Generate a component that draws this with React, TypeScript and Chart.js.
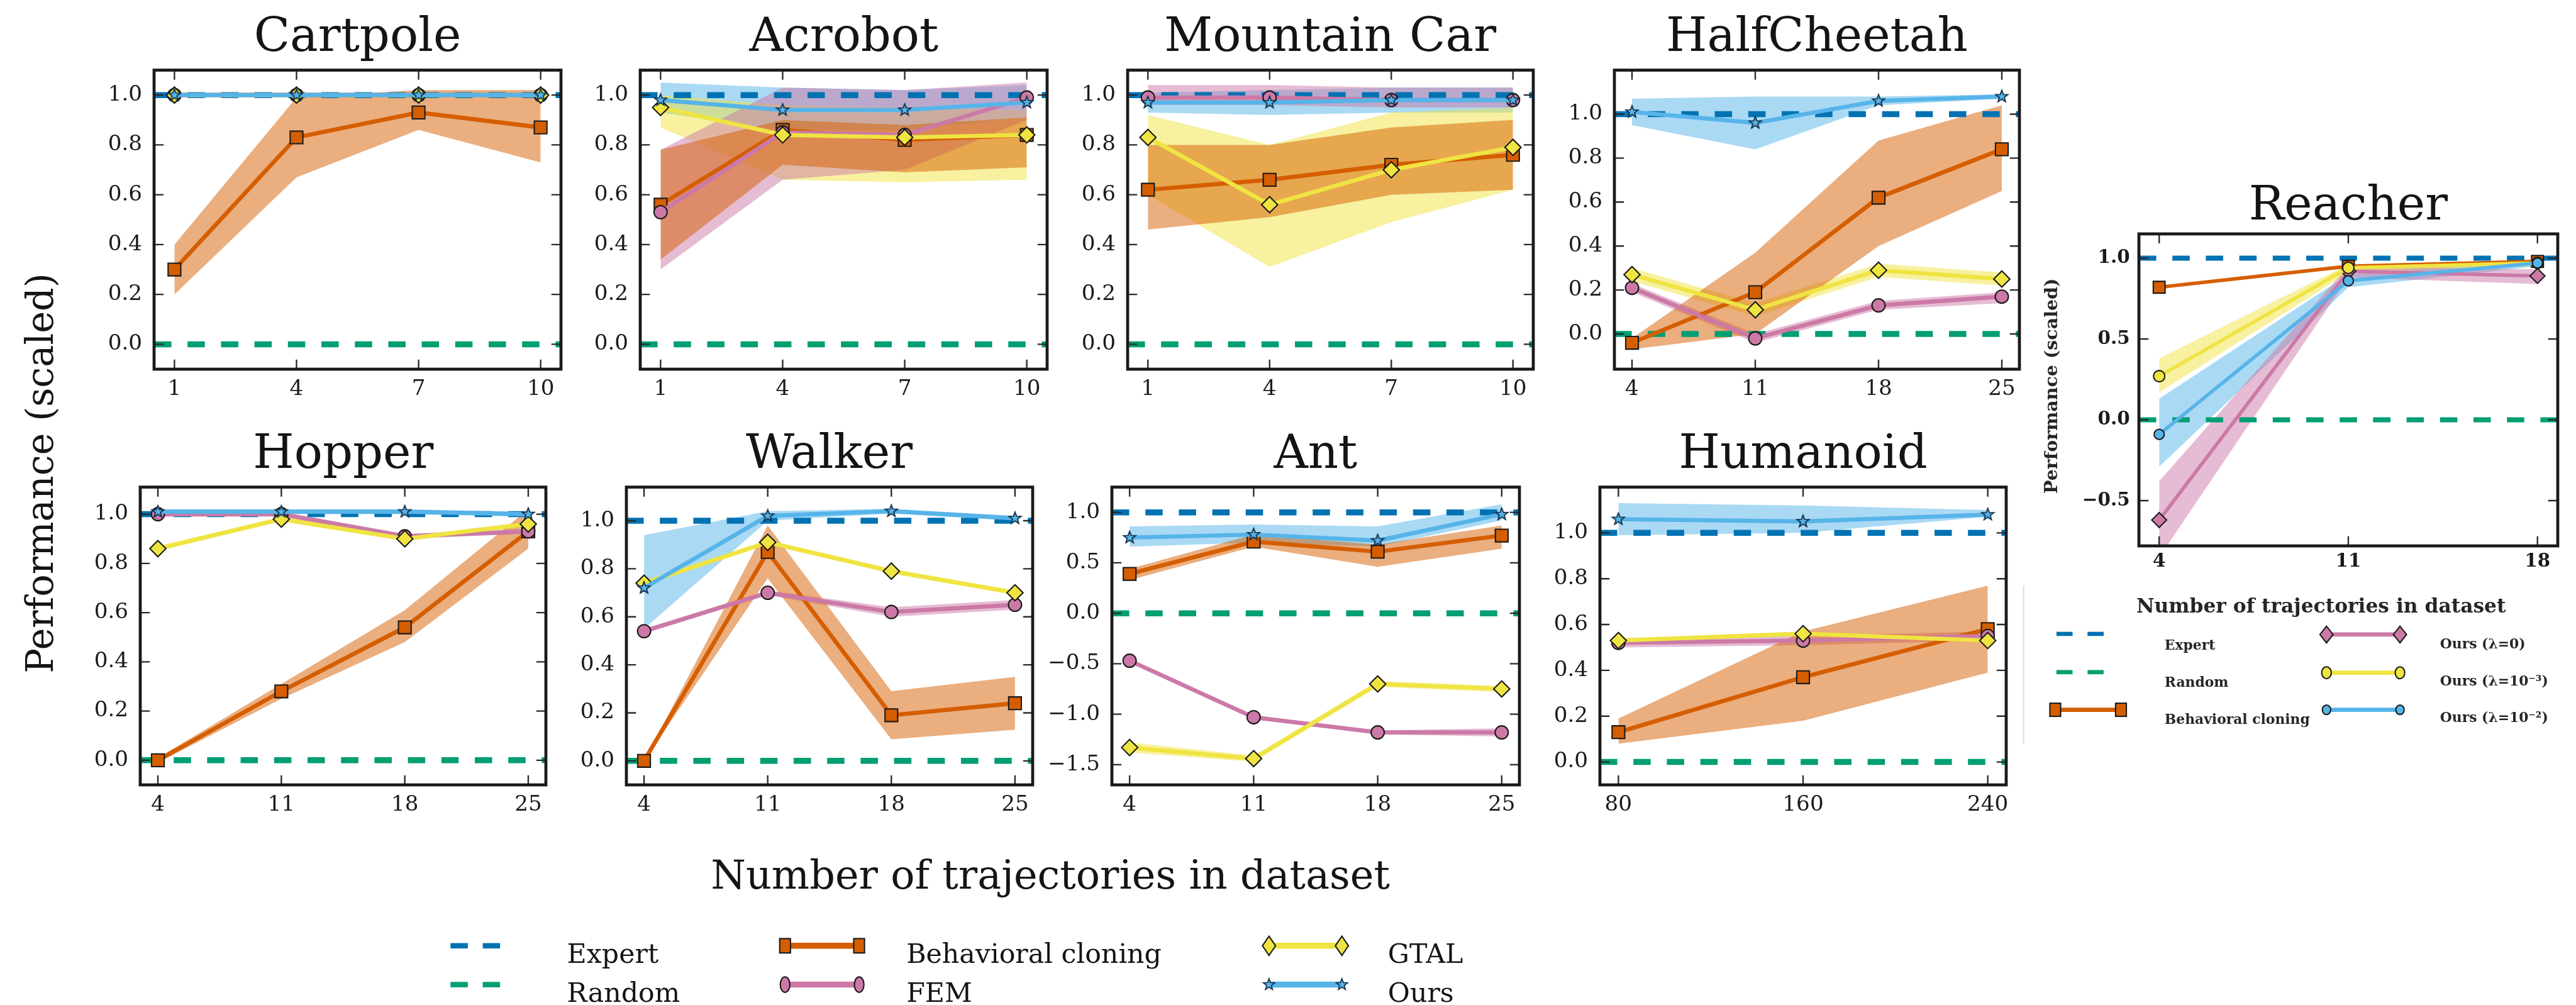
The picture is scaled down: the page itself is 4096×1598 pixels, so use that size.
import React, { useEffect, useRef } from 'react';
import { Chart, registerables } from 'chart.js';

Chart.register(...registerables);

const S = 0.95;
const FONT = 'DejaVu Serif';
const REF_W = 4309;
const REF_H = 1681;

// ---------- colours ----------
const C_EXPERT = '#0072B2';
const C_RANDOM = '#009E73';
const C_BC = '#D55E00';
const C_FEM = '#CC79A7';
const C_GTAL = '#F0E442';
const C_OURS = '#56B4E9';
const EDGE = '#1a1a1a';

// ---------- reference levels ----------
const EXPERT_LEVEL = 1.0;
const RANDOM_LEVEL = 0.0;

// ---------- tick values ----------
const yTicksUnit = [0, 0.2, 0.4, 0.6, 0.8, 1.0];
const yTicksAnt = [-1.5, -1.0, -0.5, 0, 0.5, 1.0];
const yTicksReacher = [-0.5, 0, 0.5, 1.0];

// ---------- Cartpole ----------
const cartpoleX = [1, 4, 7, 10];
const cartpoleBC = [0.30, 0.83, 0.93, 0.87];
const cartpoleBCLo = [0.20, 0.67, 0.86, 0.73];
const cartpoleBCHi = [0.40, 0.99, 1.02, 1.02];
const cartpoleFEM = [1.0, 1.0, 1.0, 1.0];
const cartpoleFEMLo = [0.99, 0.99, 0.99, 0.99];
const cartpoleFEMHi = [1.01, 1.01, 1.01, 1.01];
const cartpoleGTAL = [1.0, 1.0, 1.0, 1.0];
const cartpoleGTALLo = [0.99, 0.99, 0.99, 0.99];
const cartpoleGTALHi = [1.01, 1.01, 1.01, 1.01];
const cartpoleOurs = [1.0, 1.0, 1.0, 1.0];
const cartpoleOursLo = [0.99, 0.99, 0.99, 0.99];
const cartpoleOursHi = [1.01, 1.01, 1.01, 1.01];

// ---------- Acrobot ----------
const acrobotX = [1, 4, 7, 10];
const acrobotBC = [0.56, 0.86, 0.82, 0.84];
const acrobotBCLo = [0.34, 0.72, 0.69, 0.71];
const acrobotBCHi = [0.78, 0.90, 0.88, 0.91];
const acrobotFEM = [0.53, 0.85, 0.84, 0.99];
const acrobotFEMLo = [0.30, 0.66, 0.70, 0.90];
const acrobotFEMHi = [0.78, 1.03, 1.02, 1.05];
const acrobotGTAL = [0.95, 0.84, 0.83, 0.84];
const acrobotGTALLo = [0.87, 0.66, 0.65, 0.66];
const acrobotGTALHi = [1.00, 0.96, 0.95, 0.94];
const acrobotOurs = [0.98, 0.94, 0.94, 0.97];
const acrobotOursLo = [0.93, 0.86, 0.86, 0.91];
const acrobotOursHi = [1.05, 1.03, 1.02, 1.04];

// ---------- Mountain Car ----------
const mcarX = [1, 4, 7, 10];
const mcarBC = [0.62, 0.66, 0.72, 0.76];
const mcarBCLo = [0.46, 0.51, 0.60, 0.62];
const mcarBCHi = [0.80, 0.80, 0.87, 0.90];
const mcarFEM = [0.99, 0.99, 0.98, 0.98];
const mcarFEMLo = [0.96, 0.96, 0.95, 0.95];
const mcarFEMHi = [1.04, 1.04, 1.03, 1.03];
const mcarGTAL = [0.83, 0.56, 0.70, 0.79];
const mcarGTALLo = [0.60, 0.31, 0.49, 0.62];
const mcarGTALHi = [0.92, 0.80, 0.93, 0.95];
const mcarOurs = [0.97, 0.97, 0.98, 0.98];
const mcarOursLo = [0.93, 0.92, 0.93, 0.93];
const mcarOursHi = [1.01, 1.02, 1.03, 1.03];

// ---------- HalfCheetah ----------
const cheetahX = [4, 11, 18, 25];
const cheetahBC = [-0.04, 0.19, 0.62, 0.84];
const cheetahBCLo = [-0.07, 0.0, 0.40, 0.65];
const cheetahBCHi = [-0.02, 0.37, 0.88, 1.04];
const cheetahFEM = [0.21, -0.02, 0.13, 0.17];
const cheetahFEMLo = [0.19, -0.04, 0.11, 0.14];
const cheetahFEMHi = [0.23, 0.0, 0.15, 0.19];
const cheetahGTAL = [0.27, 0.11, 0.29, 0.25];
const cheetahGTALLo = [0.24, 0.08, 0.26, 0.22];
const cheetahGTALHi = [0.30, 0.14, 0.32, 0.28];
const cheetahOurs = [1.01, 0.96, 1.06, 1.08];
const cheetahOursLo = [0.95, 0.84, 1.04, 1.07];
const cheetahOursHi = [1.07, 1.08, 1.08, 1.09];

// ---------- Hopper ----------
const hopperX = [4, 11, 18, 25];
const hopperBC = [0.0, 0.28, 0.54, 0.93];
const hopperBCLo = [-0.01, 0.25, 0.48, 0.86];
const hopperBCHi = [0.01, 0.31, 0.61, 1.02];
const hopperFEM = [1.0, 1.0, 0.91, 0.93];
const hopperFEMLo = [0.99, 0.99, 0.90, 0.92];
const hopperFEMHi = [1.01, 1.01, 0.92, 0.94];
const hopperGTAL = [0.86, 0.98, 0.90, 0.96];
const hopperGTALLo = [0.85, 0.97, 0.89, 0.95];
const hopperGTALHi = [0.87, 0.99, 0.91, 0.97];
const hopperOurs = [1.01, 1.01, 1.01, 1.0];
const hopperOursLo = [1.0, 1.0, 1.0, 0.99];
const hopperOursHi = [1.02, 1.02, 1.02, 1.01];

// ---------- Walker ----------
const walkerX = [4, 11, 18, 25];
const walkerBC = [0.0, 0.87, 0.19, 0.24];
const walkerBCLo = [0.0, 0.76, 0.09, 0.13];
const walkerBCHi = [0.0, 0.98, 0.29, 0.35];
const walkerFEM = [0.54, 0.70, 0.62, 0.65];
const walkerFEMLo = [0.53, 0.69, 0.60, 0.63];
const walkerFEMHi = [0.55, 0.71, 0.64, 0.67];
const walkerGTAL = [0.74, 0.91, 0.79, 0.70];
const walkerGTALLo = [0.73, 0.90, 0.78, 0.69];
const walkerGTALHi = [0.75, 0.92, 0.80, 0.71];
const walkerOurs = [0.72, 1.02, 1.04, 1.01];
const walkerOursLo = [0.55, 1.0, 1.03, 1.0];
const walkerOursHi = [0.94, 1.04, 1.05, 1.02];

// ---------- Ant ----------
const antX = [4, 11, 18, 25];
const antBC = [0.39, 0.71, 0.61, 0.77];
const antBCLo = [0.33, 0.66, 0.46, 0.64];
const antBCHi = [0.44, 0.78, 0.68, 0.87];
const antFEM = [-0.47, -1.03, -1.18, -1.18];
const antFEMLo = [-0.49, -1.05, -1.20, -1.22];
const antFEMHi = [-0.45, -1.01, -1.16, -1.14];
const antGTAL = [-1.33, -1.44, -0.70, -0.75];
const antGTALLo = [-1.38, -1.47, -0.73, -0.78];
const antGTALHi = [-1.28, -1.41, -0.67, -0.72];
const antOurs = [0.75, 0.78, 0.72, 0.98];
const antOursLo = [0.66, 0.70, 0.66, 0.92];
const antOursHi = [0.86, 0.88, 0.86, 1.08];

// ---------- Humanoid ----------
const humanoidX = [80, 160, 240];
const humanoidBC = [0.13, 0.37, 0.58];
const humanoidBCLo = [0.08, 0.18, 0.39];
const humanoidBCHi = [0.19, 0.57, 0.77];
const humanoidFEM = [0.52, 0.53, 0.55];
const humanoidFEMLo = [0.50, 0.51, 0.53];
const humanoidFEMHi = [0.54, 0.55, 0.57];
const humanoidGTAL = [0.53, 0.56, 0.53];
const humanoidGTALLo = [0.52, 0.55, 0.52];
const humanoidGTALHi = [0.54, 0.57, 0.54];
const humanoidOurs = [1.06, 1.05, 1.08];
const humanoidOursLo = [0.99, 1.00, 1.07];
const humanoidOursHi = [1.13, 1.12, 1.10];

// ---------- Reacher ----------
const reacherX = [4, 11, 18];
const reacherBC = [0.82, 0.95, 0.98];
const reacherLam0 = [-0.62, 0.92, 0.89];
const reacherLam0Lo = [-0.85, 0.88, 0.84];
const reacherLam0Hi = [-0.38, 0.95, 0.93];
const reacherLam3 = [0.27, 0.94, 0.97];
const reacherLam3Lo = [0.17, 0.91, 0.95];
const reacherLam3Hi = [0.38, 0.96, 0.99];
const reacherLam2 = [-0.09, 0.86, 0.97];
const reacherLam2Lo = [-0.29, 0.82, 0.95];
const reacherLam2Hi = [0.13, 0.90, 0.99];

// ---------- helpers ----------
type Series = { y: number[]; lo?: number[]; hi?: number[]; color: string; marker: string; r: number; order: number; lw?: number };
type Panel = { title: string; box: number[]; x: number[]; xRange: number[]; yRange: number[]; yTicks: number[]; series: Series[]; reacher?: boolean };

const std = (
  bc: number[], bcLo: number[], bcHi: number[],
  fem: number[], femLo: number[], femHi: number[],
  gtal: number[], gtalLo: number[], gtalHi: number[],
  ours: number[], oursLo: number[], oursHi: number[],
): Series[] => [
  { y: bc, lo: bcLo, hi: bcHi, color: C_BC, marker: 'rect', r: 15, order: 40 },
  { y: fem, lo: femLo, hi: femHi, color: C_FEM, marker: 'circle', r: 11, order: 30 },
  { y: gtal, lo: gtalLo, hi: gtalHi, color: C_GTAL, marker: 'rectRot', r: 13.5, order: 20 },
  { y: ours, lo: oursLo, hi: oursHi, color: C_OURS, marker: 'star', r: 10, order: 10 },
];

const PANELS: Panel[] = [
  { title: 'Cartpole', box: [258, 106, 939, 618], x: cartpoleX, xRange: [0.5, 10.5], yRange: [-0.1, 1.1], yTicks: yTicksUnit,
    series: std(cartpoleBC, cartpoleBCLo, cartpoleBCHi, cartpoleFEM, cartpoleFEMLo, cartpoleFEMHi, cartpoleGTAL, cartpoleGTALLo, cartpoleGTALHi, cartpoleOurs, cartpoleOursLo, cartpoleOursHi) },
  { title: 'Acrobot', box: [1072, 106, 1753, 618], x: acrobotX, xRange: [0.5, 10.5], yRange: [-0.1, 1.1], yTicks: yTicksUnit,
    series: std(acrobotBC, acrobotBCLo, acrobotBCHi, acrobotFEM, acrobotFEMLo, acrobotFEMHi, acrobotGTAL, acrobotGTALLo, acrobotGTALHi, acrobotOurs, acrobotOursLo, acrobotOursHi) },
  { title: 'Mountain Car', box: [1887, 106, 2566, 618], x: mcarX, xRange: [0.5, 10.5], yRange: [-0.1, 1.1], yTicks: yTicksUnit,
    series: std(mcarBC, mcarBCLo, mcarBCHi, mcarFEM, mcarFEMLo, mcarFEMHi, mcarGTAL, mcarGTALLo, mcarGTALHi, mcarOurs, mcarOursLo, mcarOursHi) },
  { title: 'HalfCheetah', box: [2702, 106, 3380, 618], x: cheetahX, xRange: [3, 26], yRange: [-0.16, 1.2], yTicks: yTicksUnit,
    series: std(cheetahBC, cheetahBCLo, cheetahBCHi, cheetahFEM, cheetahFEMLo, cheetahFEMHi, cheetahGTAL, cheetahGTALLo, cheetahGTALHi, cheetahOurs, cheetahOursLo, cheetahOursHi) },
  { title: 'Hopper', box: [235, 804, 914, 1314], x: hopperX, xRange: [3, 26], yRange: [-0.1, 1.11], yTicks: yTicksUnit,
    series: std(hopperBC, hopperBCLo, hopperBCHi, hopperFEM, hopperFEMLo, hopperFEMHi, hopperGTAL, hopperGTALLo, hopperGTALHi, hopperOurs, hopperOursLo, hopperOursHi) },
  { title: 'Walker', box: [1048, 804, 1728, 1314], x: walkerX, xRange: [3, 26], yRange: [-0.1, 1.14], yTicks: yTicksUnit,
    series: std(walkerBC, walkerBCLo, walkerBCHi, walkerFEM, walkerFEMLo, walkerFEMHi, walkerGTAL, walkerGTALLo, walkerGTALHi, walkerOurs, walkerOursLo, walkerOursHi) },
  { title: 'Ant', box: [1861, 804, 2543, 1314], x: antX, xRange: [3, 26], yRange: [-1.7, 1.25], yTicks: yTicksAnt,
    series: std(antBC, antBCLo, antBCHi, antFEM, antFEMLo, antFEMHi, antGTAL, antGTALLo, antGTALHi, antOurs, antOursLo, antOursHi) },
  { title: 'Humanoid', box: [2678, 804, 3358, 1314], x: humanoidX, xRange: [72, 248], yRange: [-0.1, 1.2], yTicks: yTicksUnit,
    series: std(humanoidBC, humanoidBCLo, humanoidBCHi, humanoidFEM, humanoidFEMLo, humanoidFEMHi, humanoidGTAL, humanoidGTALLo, humanoidGTALHi, humanoidOurs, humanoidOursLo, humanoidOursHi) },
  { title: 'Reacher', box: [3580, 388, 4281, 914], x: reacherX, xRange: [3.25, 18.75], yRange: [-0.78, 1.15], yTicks: yTicksReacher, reacher: true,
    series: [
      { y: reacherBC, color: C_BC, marker: 'rect', r: 14, order: 40, lw: 6 },
      { y: reacherLam0, lo: reacherLam0Lo, hi: reacherLam0Hi, color: C_FEM, marker: 'rectRot', r: 12.5, order: 30, lw: 6 },
      { y: reacherLam3, lo: reacherLam3Lo, hi: reacherLam3Hi, color: C_GTAL, marker: 'circle', r: 9.5, order: 20, lw: 6 },
      { y: reacherLam2, lo: reacherLam2Lo, hi: reacherLam2Hi, color: C_OURS, marker: 'circle', r: 8.5, order: 10, lw: 6 },
    ] },
];

function rgba(hex: string, a: number) {
  const n = parseInt(hex.slice(1), 16);
  return `rgba(${(n >> 16) & 255},${(n >> 8) & 255},${n & 255},${a})`;
}

let starCache: HTMLCanvasElement | null = null;
function starMarker() {
  if (starCache) return starCache;
  const R = 10.5 * S;
  const size = Math.ceil(2 * R + 4);
  const c = document.createElement('canvas');
  c.width = size; c.height = size;
  const g = c.getContext('2d')!;
  g.beginPath();
  for (let i = 0; i < 10; i++) {
    const a = -Math.PI / 2 + (i * Math.PI) / 5;
    const rr = i % 2 === 0 ? R : R * 0.42;
    const px = size / 2 + rr * Math.cos(a);
    const py = size / 2 + rr * Math.sin(a);
    if (i === 0) g.moveTo(px, py); else g.lineTo(px, py);
  }
  g.closePath();
  g.fillStyle = C_OURS; g.fill();
  g.lineWidth = 2 * S; g.strokeStyle = '#123049'; g.stroke();
  starCache = c;
  return c;
}

function buildDatasets(p: Panel) {
  const ds: any[] = [];
  p.series.forEach((s) => {
    if (s.lo && s.hi) {
      ds.push({ data: p.x.map((x, i) => ({ x, y: s.lo![i] })), borderColor: 'rgba(0,0,0,0)', borderWidth: 0, pointRadius: 0, fill: false, order: 100 });
      ds.push({ data: p.x.map((x, i) => ({ x, y: s.hi![i] })), borderColor: 'rgba(0,0,0,0)', borderWidth: 0, pointRadius: 0, fill: '-1', backgroundColor: rgba(s.color, 0.5), order: 100 });
    }
  });
  const dashW = (p.reacher ? 8.5 : 10) * S;
  ds.push({ data: [{ x: p.xRange[0], y: EXPERT_LEVEL }, { x: p.xRange[1], y: EXPERT_LEVEL }], borderColor: C_EXPERT, borderWidth: dashW, borderDash: [29 * S, 27 * S], borderCapStyle: 'butt', pointRadius: 0, fill: false, order: 50 });
  ds.push({ data: [{ x: p.xRange[0], y: RANDOM_LEVEL }, { x: p.xRange[1], y: RANDOM_LEVEL }], borderColor: C_RANDOM, borderWidth: dashW, borderDash: [29 * S, 27 * S], borderCapStyle: 'butt', pointRadius: 0, fill: false, order: 50 });
  p.series.forEach((s) => {
    ds.push({
      data: p.x.map((x, i) => ({ x, y: s.y[i] })),
      borderColor: s.color, borderWidth: (s.lw || 7) * S, fill: false, tension: 0,
      pointStyle: s.marker === 'star' ? starMarker() : s.marker,
      pointRadius: s.r * S, pointBackgroundColor: s.color, pointBorderColor: EDGE, pointBorderWidth: 2.2 * S,
      order: s.order,
    });
  });
  return ds;
}

const framePlugin = {
  id: 'frame',
  afterDraw(chart: any) {
    const { ctx, chartArea: a, scales } = chart;
    const xs = scales.x, ys = scales.y;
    ctx.save();
    ctx.strokeStyle = '#2a2a2a';
    ctx.lineWidth = 2.5 * S;
    const L = 16 * S;
    ctx.beginPath();
    xs.ticks.forEach((tk: any) => {
      const px = xs.getPixelForValue(tk.value);
      ctx.moveTo(px, a.bottom); ctx.lineTo(px, a.bottom - L);
      ctx.moveTo(px, a.top); ctx.lineTo(px, a.top + L);
    });
    ys.ticks.forEach((tk: any) => {
      const py = ys.getPixelForValue(tk.value);
      ctx.moveTo(a.left, py); ctx.lineTo(a.left + L, py);
      ctx.moveTo(a.right, py); ctx.lineTo(a.right - L, py);
    });
    ctx.stroke();
    ctx.strokeStyle = '#1a1a1a';
    ctx.lineWidth = 5 * S;
    ctx.strokeRect(a.left, a.top, a.right - a.left, a.bottom - a.top);
    ctx.restore();
  },
};

const fmtY = (v: number) => (Math.abs(v) < 1e-9 ? '0.0' : v.toFixed(1)).replace('-', '\u2212');

const PAD_L = 150, PAD_R = 30, PAD_T = 30, PAD_B = 80;

function PanelChart({ p }: { p: Panel }) {
  const ref = useRef<HTMLCanvasElement>(null);
  const [l, t, r, b] = p.box;
  const left = Math.round((l - PAD_L) * S);
  const top = Math.round((t - PAD_T) * S);
  const width = Math.round((r + PAD_R) * S) - left;
  const height = Math.round((b + PAD_B) * S) - top;
  const padL = Math.round(l * S) - left;
  const padT = Math.round(t * S) - top;
  const padR = width - (Math.round(r * S) - left);
  const padB = height - (Math.round(b * S) - top);

  useEffect(() => {
    const tickFont = { family: FONT, size: (p.reacher ? 31 : 36) * S, weight: p.reacher ? 'bold' : 'normal' };
    const chart = new Chart(ref.current!, {
      type: 'line',
      data: { datasets: buildDatasets(p) },
      options: {
        animation: false,
        responsive: false,
        maintainAspectRatio: false,
        devicePixelRatio: 1,
        events: [],
        layout: { padding: { top: padT, right: padR, left: 0, bottom: 0 } },
        plugins: { legend: { display: false }, tooltip: { enabled: false }, title: { display: false } },
        scales: {
          x: {
            type: 'linear', min: p.xRange[0], max: p.xRange[1],
            grid: { display: false, drawTicks: false }, border: { display: false },
            afterBuildTicks: (sc: any) => { sc.ticks = p.x.map((v) => ({ value: v })); },
            afterFit: (sc: any) => { sc.height = padB; },
            ticks: { font: tickFont, color: '#1a1a1a', padding: (p.reacher ? 8 : 12) * S, autoSkip: false, maxRotation: 0, minRotation: 0, callback: (v: any) => String(v) },
          },
          y: {
            type: 'linear', min: p.yRange[0], max: p.yRange[1],
            grid: { display: false, drawTicks: false }, border: { display: false },
            afterBuildTicks: (sc: any) => { sc.ticks = p.yTicks.map((v) => ({ value: v })); },
            afterFit: (sc: any) => { sc.width = padL; },
            ticks: { font: tickFont, color: '#1a1a1a', padding: (p.reacher ? 15 : 20) * S, autoSkip: false, callback: (v: any) => fmtY(Number(v)) },
          },
        },
      } as any,
      plugins: [framePlugin],
    } as any);
    return () => chart.destroy();
  }, []);

  return (
    <canvas
      ref={ref}
      width={width}
      height={height}
      style={{ position: 'absolute', left, top, width, height }}
    />
  );
}

// ---------- SVG legend helpers (reference coordinates) ----------
function starPts(cx: number, cy: number, R: number) {
  const pts: string[] = [];
  for (let i = 0; i < 10; i++) {
    const a = -Math.PI / 2 + (i * Math.PI) / 5;
    const rr = i % 2 === 0 ? R : R * 0.42;
    pts.push(`${cx + rr * Math.cos(a)},${cy + rr * Math.sin(a)}`);
  }
  return pts.join(' ');
}

function Mark({ kind, cx, cy, w, h, color }: any) {
  const common = { fill: color, stroke: EDGE, strokeWidth: 2.2 };
  if (kind === 'rect') return <rect x={cx - w / 2} y={cy - h / 2} width={w} height={h} {...common} />;
  if (kind === 'circle') return <ellipse cx={cx} cy={cy} rx={w / 2} ry={h / 2} {...common} />;
  if (kind === 'diamond') return <polygon points={`${cx},${cy - h / 2} ${cx + w / 2},${cy} ${cx},${cy + h / 2} ${cx - w / 2},${cy}`} {...common} />;
  return <polygon points={starPts(cx, cy, w / 2)} fill={color} stroke="#123049" strokeWidth={1.8} />;
}

function Handle({ x1, x2, y, color, lw, kind, w, h }: any) {
  return (
    <g>
      <line x1={x1} x2={x2} y1={y} y2={y} stroke={color} strokeWidth={lw} />
      <Mark kind={kind} cx={x1} cy={y} w={w} h={h} color={color} />
      <Mark kind={kind} cx={x2} cy={y} w={w} h={h} color={color} />
    </g>
  );
}

function Dashes({ x, y, color, lw, d, g }: any) {
  return (
    <g>
      <line x1={x} x2={x + d} y1={y} y2={y} stroke={color} strokeWidth={lw} />
      <line x1={x + d + g} x2={x + 2 * d + g} y1={y} y2={y} stroke={color} strokeWidth={lw} />
    </g>
  );
}

function Overlay() {
  const txt = { fontFamily: FONT, fill: '#141414' };
  const rtxt = { fontFamily: FONT, fill: '#262626', fontWeight: 'bold' as const };
  return (
    <svg
      width={REF_W * S}
      height={REF_H * S}
      viewBox={`0 0 ${REF_W} ${REF_H}`}
      style={{ position: 'absolute', left: 0, top: 0, pointerEvents: 'none' }}
    >
      {PANELS.map((p) => (
        <text key={p.title} x={(p.box[0] + p.box[2]) / 2} y={p.box[1] - 21} fontSize={79} textAnchor="middle" {...txt}>
          {p.title}
        </text>
      ))}
      <text transform="translate(88,792) rotate(-90)" fontSize={62} textAnchor="middle" {...txt}>Performance (scaled)</text>
      <text x={1758} y={1487} fontSize={67} textAnchor="middle" {...txt}>Number of trajectories in dataset</text>

      {/* main legend */}
      <Dashes x={754} y={1583} color={C_EXPERT} lw={9} d={29} g={25} />
      <Dashes x={754} y={1648} color={C_RANDOM} lw={9} d={29} g={25} />
      <Handle x1={1314} x2={1438} y={1583} color={C_BC} lw={10} kind="rect" w={18} h={24} />
      <Handle x1={1314} x2={1438} y={1648} color={C_FEM} lw={10} kind="circle" w={16} h={26} />
      <Handle x1={2124} x2={2246} y={1583} color={C_GTAL} lw={10} kind="diamond" w={22} h={32} />
      <Handle x1={2124} x2={2246} y={1648} color={C_OURS} lw={10} kind="star" w={20} h={20} />
      <text x={949} y={1612} fontSize={45} {...txt}>Expert</text>
      <text x={949} y={1677} fontSize={45} {...txt}>Random</text>
      <text x={1517} y={1612} fontSize={45} {...txt}>Behavioral cloning</text>
      <text x={1517} y={1677} fontSize={45} {...txt}>FEM</text>
      <text x={2323} y={1612} fontSize={45} {...txt}>GTAL</text>
      <text x={2323} y={1677} fontSize={45} {...txt}>Ours</text>

      {/* Reacher labels */}
      <text transform="translate(3443,646) rotate(-90)" fontSize={30} textAnchor="middle" {...rtxt}>Performance (scaled)</text>
      <text x={3885} y={1025} fontSize={33} textAnchor="middle" {...rtxt}>Number of trajectories in dataset</text>
      <line x1={3387} x2={3387} y1={980} y2={1245} stroke="#dcdcdc" strokeWidth={2} />

      {/* Reacher legend */}
      <Dashes x={3442} y={1061} color={C_EXPERT} lw={7} d={27} g={25} />
      <Dashes x={3442} y={1125} color={C_RANDOM} lw={7} d={27} g={25} />
      <Handle x1={3440} x2={3550} y={1188} color={C_BC} lw={7} kind="rect" w={18} h={22} />
      <Handle x1={3894} x2={4017} y={1062} color={C_FEM} lw={7} kind="diamond" w={22} h={28} />
      <Handle x1={3894} x2={4017} y={1126} color={C_GTAL} lw={7} kind="circle" w={16} h={20} />
      <Handle x1={3894} x2={4017} y={1188} color={C_OURS} lw={7} kind="circle" w={14} h={16} />
      <text x={3623} y={1087} fontSize={23} {...rtxt}>Expert</text>
      <text x={3623} y={1150} fontSize={23} {...rtxt}>Random</text>
      <text x={3623} y={1212} fontSize={23} {...rtxt}>Behavioral cloning</text>
      <text x={4084} y={1085} fontSize={23} {...rtxt}>Ours (λ=0)</text>
      <text x={4084} y={1147} fontSize={23} {...rtxt}>Ours (λ=10⁻³)</text>
      <text x={4084} y={1208} fontSize={23} {...rtxt}>Ours (λ=10⁻²)</text>
    </svg>
  );
}

export default function App() {
  return (
    <div style={{ position: 'absolute', left: 0, top: 0, width: 4096, height: 1598, background: '#ffffff', overflow: 'hidden' }}>
      {PANELS.map((p) => (
        <PanelChart key={p.title} p={p} />
      ))}
      <Overlay />
    </div>
  );
}
